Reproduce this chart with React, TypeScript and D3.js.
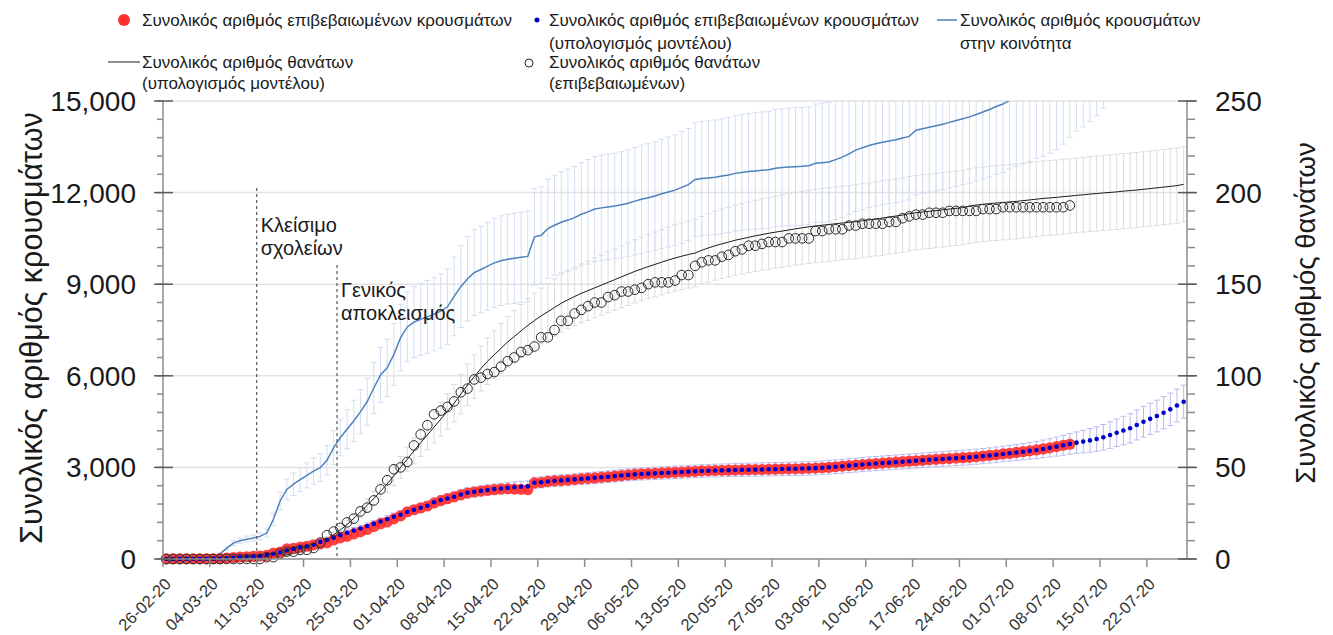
import React from "react";
import * as d3 from "d3";

// dates on the x axis (dd-mm-yy)
const startDate = "26-02-20";
const endDate = "28-07-20";
const tickLabels = ["26-02-20", "04-03-20", "11-03-20", "18-03-20", "25-03-20", "01-04-20", "08-04-20", "15-04-20", "22-04-20", "29-04-20", "06-05-20", "13-05-20", "20-05-20", "27-05-20", "03-06-20", "10-06-20", "17-06-20", "24-06-20", "01-07-20", "08-07-20", "15-07-20", "22-07-20"];

const caseTicks = [0, 3000, 6000, 9000, 12000, 15000];
const deathTicks = [0, 50, 100, 150, 200, 250];

// confirmed cases, daily from 26-02-20
const confirmedStart = "26-02-20";
const confirmedCases = [
  1, 3, 4, 7, 7, 7, 7, 9, 10, 31,
  45, 66, 73, 89, 99, 117, 190, 228, 331, 352,
  387, 418, 464, 495, 530, 624, 695, 743, 821, 892,
  966, 1061, 1156, 1212, 1314, 1415, 1544, 1613, 1673, 1735,
  1830, 1910, 1975, 2035, 2100, 2160, 2195, 2225, 2250, 2270,
  2290, 2300, 2290, 2280, 2270, 2490, 2505, 2540, 2560, 2570,
  2585, 2603, 2625, 2640, 2655, 2672, 2693, 2712, 2733, 2752,
  2770, 2785, 2795, 2805, 2818, 2826, 2838, 2850, 2860, 2870,
  2885, 2890, 2898, 2903, 2908, 2915, 2920, 2925, 2928, 2932,
  2938, 2942, 2948, 2952, 2956, 2962, 2968, 2975, 2988, 3004,
  3022, 3042, 3060, 3075, 3092, 3110, 3125, 3140, 3157, 3171,
  3188, 3204, 3218, 3232, 3250, 3264, 3278, 3290, 3303, 3318,
  3330, 3349, 3371, 3392, 3414, 3440, 3462, 3490, 3514, 3541,
  3571, 3604, 3641, 3681, 3724, 3760,
];

// model estimate of confirmed cases and its error
const modelStart = "26-02-20";
const modelCases = [
  1, 2, 4, 6, 7, 8, 9, 11, 15, 25,
  38, 55, 70, 88, 105, 130, 170, 215, 280, 330,
  375, 420, 465, 560, 620, 700, 780, 860, 935, 1000,
  1080, 1150, 1230, 1300, 1380, 1450, 1540, 1610, 1680, 1740,
  1860, 1930, 1980, 2040, 2110, 2170, 2200, 2230, 2260, 2290,
  2310, 2330, 2350, 2368, 2380, 2495, 2510, 2540, 2560, 2575,
  2590, 2607, 2624, 2641, 2658, 2675, 2695, 2715, 2735, 2755,
  2773, 2785, 2795, 2805, 2816, 2827, 2838, 2849, 2860, 2871,
  2882, 2890, 2897, 2903, 2909, 2915, 2920, 2924, 2928, 2933,
  2937, 2942, 2947, 2952, 2957, 2962, 2967, 2975, 2990, 3005,
  3023, 3040, 3058, 3075, 3093, 3111, 3126, 3141, 3156, 3172,
  3187, 3203, 3218, 3233, 3249, 3264, 3277, 3290, 3304, 3317,
  3330, 3350, 3370, 3392, 3415, 3439, 3463, 3489, 3515, 3542,
  3570, 3605, 3640, 3680, 3725, 3770, 3810, 3845, 3885, 3930,
  3985, 4060, 4135, 4208, 4280, 4390, 4497, 4590, 4683, 4790,
  4902, 5025, 5152,
];
const modelCasesErr = [
  0, 0, 0, 1, 1, 1, 1, 2, 2, 4,
  6, 8, 10, 12, 14, 18, 24, 30, 38, 44,
  50, 55, 60, 66, 72, 78, 84, 90, 95, 100,
  105, 110, 115, 120, 125, 128, 132, 136, 140, 143,
  146, 149, 152, 155, 158, 160, 162, 164, 166, 168,
  170, 172, 174, 176, 178, 180, 182, 183, 184, 185,
  186, 187, 188, 189, 190, 191, 192, 193, 194, 195,
  196, 197, 198, 199, 200, 201, 202, 203, 204, 205,
  206, 207, 208, 209, 210, 211, 212, 213, 214, 215,
  216, 217, 218, 219, 220, 221, 222, 223, 224, 225,
  226, 227, 228, 229, 230, 231, 232, 233, 234, 235,
  236, 237, 238, 239, 240, 241, 242, 243, 244, 245,
  246, 247, 248, 250, 252, 254, 258, 262, 268, 274,
  282, 290, 300, 312, 325, 338, 350, 368, 385, 402,
  420, 436, 452, 466, 480, 492, 503, 512, 520, 527,
  533, 538, 542,
];

// cases in the community (model), daily from 04-03-20
const communityStart = "04-03-20";
const communityCases = [
  0, 170, 350, 520, 600, 650, 690, 740, 850, 1300,
  1900, 2280, 2450, 2600, 2740, 2880, 2990, 3230, 3650, 3980,
  4250, 4520, 4820, 5150, 5600, 6030, 6260, 6700, 7250, 7600,
  7760, 7850, 7930, 8020, 8120, 8260, 8600, 8920, 9180, 9380,
  9480, 9590, 9700, 9770, 9820, 9850, 9880, 9910, 10550, 10600,
  10820, 10930, 11030, 11100, 11180, 11290, 11370, 11460, 11500, 11530,
  11560, 11600, 11650, 11720, 11780, 11830, 11890, 11960, 12020, 12080,
  12170, 12260, 12430, 12460, 12480, 12500, 12540, 12580, 12630, 12660,
  12690, 12710, 12730, 12750, 12800, 12820, 12840, 12850, 12860, 12880,
  12960, 12980, 13000, 13080, 13160, 13270, 13390, 13470, 13540, 13600,
  13650, 13690, 13730, 13790, 13840, 14040, 14090, 14140, 14190, 14240,
  14300, 14360, 14420, 14480, 14560, 14640, 14720, 14820, 14900, 15020,
  15120, 15220, 15320, 15430, 15520, 15640, 15780, 15990, 16250, 16480,
  16650, 16850, 17080, 17370, 17650, 17900, 18150, 18400, 18650,
];
const communityErr = [
  0, 30, 50, 80, 90, 100, 100, 110, 130, 200,
  290, 340, 370, 390, 410, 430, 450, 480, 550, 600,
  640, 680, 720, 770, 840, 900, 940, 1010, 1090, 1140,
  1160, 1180, 1190, 1200, 1220, 1240, 1290, 1340, 1380, 1410,
  1420, 1440, 1460, 1470, 1470, 1480, 1480, 1490, 1580, 1590,
  1620, 1640, 1650, 1670, 1680, 1690, 1710, 1720, 1730, 1730,
  1730, 1740, 1750, 1760, 1770, 1770, 1780, 1790, 1800, 1810,
  1830, 1840, 1860, 1870, 1870, 1880, 1880, 1890, 1890, 1900,
  1900, 1910, 1910, 1910, 1920, 1920, 1930, 1930, 1930, 1930,
  1940, 1950, 1950, 1960, 1970, 1990, 2010, 2020, 2030, 2040,
  2050, 2050, 2060, 2070, 2080, 2110, 2110, 2120, 2130, 2140,
  2150, 2150, 2160, 2170, 2180, 2200, 2210, 2220, 2240, 2250,
  2270, 2280, 2300, 2310, 2330, 2350, 2370, 2400, 2440, 2470,
  2500, 2530, 2560, 2610, 2650, 2690, 2720, 2760, 2800,
];

// deaths: model estimate from 11-03-20, confirmed from 26-02-20
const deathModelStart = "11-03-20";
const deathModel = [
  0.3, 0.6, 1, 1.6, 2.3, 3.1, 4, 5.3, 6.8, 8.6,
  10.8, 13.2, 15.8, 18.8, 22.2, 25.7, 29.3, 33, 37, 41,
  45.5, 50, 54.5, 59, 63.5, 67.7, 72, 76.3, 80.6, 85,
  90, 95, 99.5, 104, 108, 111.5, 115, 118.5, 121.5, 124.5,
  127.5, 130.2, 132.7, 135, 137.3, 139.6, 141.5, 143.3, 145, 146.5,
  148, 149.5, 151, 152.5, 154, 155.5, 157, 158.3, 159.6, 160.8,
  162, 163.2, 164.3, 165.3, 166.2, 167, 168.5, 169.8, 171, 172,
  173, 174, 174.8, 175.6, 176.4, 177.1, 177.8, 178.4, 179, 179.6,
  180.2, 180.8, 181.3, 181.8, 182.2, 182.6, 183, 183.4, 183.8, 184.1,
  184.6, 185.1, 185.6, 186.1, 186.7, 187.2, 187.7, 188.5, 189, 189.4,
  189.8, 190.2, 190.6, 191, 191.4, 191.8, 192.6, 193.2, 193.6, 194,
  194.3, 194.6, 194.9, 195.2, 195.6, 196, 196.4, 196.8, 197.1, 197.4,
  197.8, 198.1, 198.5, 198.8, 199.2, 199.5, 199.8, 200.1, 200.4, 200.8,
  201.1, 201.4, 201.8, 202.2, 202.6, 203, 203.4, 203.8, 204.5,
];
const deathModelErr = [
  0, 0.1, 0.1, 0.2, 0.3, 0.4, 0.5, 0.6, 0.8, 1,
  1.3, 1.6, 1.9, 2.3, 2.7, 3.1, 3.5, 4, 4.4, 4.9,
  5.5, 6, 6.5, 7.1, 7.6, 8.1, 8.6, 9.2, 9.7, 10.2,
  10.8, 11.4, 11.9, 12.3, 12.7, 13.1, 13.5, 13.8, 14.1, 14.4,
  14.7, 15, 15.2, 15.4, 15.6, 15.8, 15.9, 16, 16.1, 16.2,
  16.3, 16.4, 16.6, 16.7, 16.9, 17.1, 17.2, 17.4, 17.5, 17.7,
  17.8, 18, 18.1, 18.2, 18.3, 18.4, 18.5, 18.7, 18.8, 18.9,
  19, 19.1, 19.2, 19.3, 19.4, 19.5, 19.6, 19.6, 19.7, 19.8,
  19.8, 19.9, 19.9, 20, 20, 20.1, 20.1, 20.1, 20.1, 20.2,
  20.2, 20.2, 20.2, 20.3, 20.3, 20.3, 20.3, 20.3, 20.3, 20.3,
  20.3, 20.3, 20.3, 20.3, 20.3, 20.3, 20.3, 20.3, 20.3, 20.4,
  20.4, 20.4, 20.4, 20.4, 20.4, 20.4, 20.4, 20.4, 20.4, 20.4,
  20.4, 20.4, 20.4, 20.4, 20.4, 20.5, 20.5, 20.5, 20.5, 20.5,
  20.5, 20.5, 20.5, 20.5, 20.5, 20.5, 20.5, 20.5, 20.5,
];
const deathsStart = "26-02-20";
const deaths = [
  0, 0, 0, 0, 0, 0, 0, 0, 0, 0,
  0, 0, 0, 0, 0, 1, 1, 3, 4, 4,
  5, 5, 6, 9, 13, 15, 17, 20, 22, 26,
  28, 32, 38, 43, 49, 50, 53, 62, 68, 73,
  79, 81, 83, 86, 91, 93, 98, 99, 101, 102,
  105, 108, 110, 113, 114, 116, 121, 121, 125, 130,
  130, 134, 136, 138, 140, 140, 143, 144, 146, 146,
  147, 148, 150, 151, 151, 151, 152, 155, 155, 160,
  162, 163, 163, 165, 166, 168, 169, 171, 171, 172,
  173, 173, 173, 175, 175, 175, 175, 179, 179, 180,
  180, 180, 182, 182, 183, 183, 183, 183, 184, 184,
  186, 187, 188, 188, 189, 189, 189, 190, 190, 190,
  190, 190, 191, 191, 191, 192, 192, 192, 192, 192,
  192, 192, 192, 192, 192, 193,
];

// interventions
const eventDates = ["11-03-20", "23-03-20"];
const eventLabels = [["Κλείσιμο", "σχολείων"], ["Γενικός", "αποκλεισμός"]];
const eventTops = [12150, 9630];

const FONT = "'Liberation Sans', Arial, sans-serif";
const PL = 163, PR = 1187, PT = 101, PB = 559;

const parse = d3.timeParse("%d-%m-%y");
type Pt = { date: Date; v: number };
// daily points sit at noon of their day
const daily = (start: string, values: number[]): Pt[] =>
  values.map((v, i) => ({ date: d3.timeHour.offset(d3.timeDay.offset(parse(start) as Date, i), 12), v }));

function ErrorBars({ pts, errs, x, y, color, cap = 3 }: any) {
  return (
    <g stroke={color} strokeWidth={1} fill="none">
      {pts.map((p: Pt, i: number) => {
        const e = errs[i];
        if (!e) return null;
        const px = x(p.date);
        const y1 = y(p.v - e), y2 = y(p.v + e);
        return <path key={i} d={`M${px - cap},${y1}H${px + cap}M${px},${y1}V${y2}M${px - cap},${y2}H${px + cap}`} />;
      })}
    </g>
  );
}

export default function App() {
  const x = d3.scaleTime().domain([parse(startDate) as Date, parse(endDate) as Date]).range([PL, PR]);
  const yL = d3.scaleLinear().domain([0, 15000]).range([PB, PT]);
  const yR = d3.scaleLinear().domain([0, 250]).range([PB, PT]);

  const confirmed = daily(confirmedStart, confirmedCases);
  const model = daily(modelStart, modelCases);
  const community = daily(communityStart, communityCases);
  const dModel = daily(deathModelStart, deathModel);
  const dObs = daily(deathsStart, deaths);

  const lineL = d3.line<Pt>().x(d => x(d.date)).y(d => yL(d.v));
  const lineR = d3.line<Pt>().x(d => x(d.date)).y(d => yR(d.v));

  const minorL = d3.range(0, 15001, 600);
  const minorR = d3.range(0, 251, 10);
  const fmt = d3.format(",");
  const axisColor = "#8c8c8c";

  const legendText = { fontFamily: FONT, fontSize: 17, fill: "#1a1a1a" } as const;

  return (
    <svg width={1333} height={635} style={{ position: "absolute", left: 0, top: 0 }}>
      <defs>
        <clipPath id="plotTop">
          <rect x={0} y={PT} width={1333} height={635 - PT} />
        </clipPath>
      </defs>
      <rect width={1333} height={635} fill="#fff" />

      {/* gridlines */}
      {caseTicks.slice(1).map(t => (
        <line key={t} x1={PL} x2={PR} y1={yL(t)} y2={yL(t)} stroke="#e3e3e3" strokeWidth={1.5} />
      ))}

      {/* error bars */}
      <ErrorBars pts={dModel} errs={deathModelErr} x={x} y={yR} color="#dcdcdc" />
      <g clipPath="url(#plotTop)">
        <ErrorBars pts={community} errs={communityErr} x={x} y={yL} color="#d3def0" />
      </g>
      <ErrorBars pts={model} errs={modelCasesErr} x={x} y={yL} color="#b9b9f2" />

      {/* lines */}
      <g clipPath="url(#plotTop)">
        <path d={lineL(community) ?? ""} fill="none" stroke="#4f81bd" strokeWidth={1.5} />
      </g>
      <path d={lineR(dModel) ?? ""} fill="none" stroke="#1a1a1a" strokeWidth={1} />

      {/* event lines */}
      {eventDates.map((ds, i) => {
        const ex = x(parse(ds) as Date);
        const top = yL(eventTops[i]);
        const dy = i === 0 ? 44 : 32;
        return (
          <g key={ds}>
            <line x1={ex} x2={ex} y1={top} y2={PB} stroke="#555" strokeWidth={1.2} strokeDasharray="3,3" />
            {eventLabels[i].map((s, j) => (
              <text key={j} x={ex + 4} y={top + dy + j * 23} fontFamily={FONT} fontSize={20} fill="#1a1a1a">{s}</text>
            ))}
          </g>
        );
      })}

      {/* points */}
      <g fill="#ff3030" fillOpacity={0.9}>
        {confirmed.map((p, i) => <circle key={i} cx={x(p.date)} cy={yL(p.v)} r={5.6} />)}
      </g>
      <g fill="#0000cc">
        {model.map((p, i) => <circle key={i} cx={x(p.date)} cy={yL(p.v)} r={2.3} />)}
      </g>
      <g fill="none" stroke="#2a2a2a" strokeWidth={1}>
        {dObs.map((p, i) => <circle key={i} cx={x(p.date)} cy={yR(p.v)} r={4.8} />)}
      </g>

      {/* axes */}
      <g stroke={axisColor} strokeWidth={1.5}>
        <line x1={PL} x2={PL} y1={PT} y2={PB} />
        <line x1={PR} x2={PR} y1={PT} y2={PB} />
        <line x1={PL} x2={PR} y1={PB} y2={PB} />
        {minorL.map(t => <line key={"ml" + t} x1={PL - 6} x2={PL} y1={yL(t)} y2={yL(t)} />)}
        {minorR.map(t => <line key={"mr" + t} x1={PR} x2={PR + 8} y1={yR(t)} y2={yR(t)} />)}
        {tickLabels.map(l => {
          const tx = x(parse(l) as Date);
          return <line key={"xt" + l} x1={tx} x2={tx} y1={PB} y2={PB + 8} />;
        })}
      </g>
      <g stroke="#5a5a5a" strokeWidth={1.5}>
        {caseTicks.map(t => <line key={"jl" + t} x1={PL - 9} x2={PL + 10} y1={yL(t)} y2={yL(t)} />)}
        {deathTicks.map(t => <line key={"jr" + t} x1={PR - 9} x2={PR + 10} y1={yR(t)} y2={yR(t)} />)}
      </g>

      {/* tick labels */}
      <g fontFamily={FONT} fontSize={28} fill="#1a1a1a">
        {caseTicks.map(t => (
          <text key={"l" + t} x={136} y={yL(t)} dy="0.36em" textAnchor="end">{fmt(t)}</text>
        ))}
        {deathTicks.map(t => (
          <text key={"r" + t} x={1215} y={yR(t)} dy="0.36em">{t}</text>
        ))}
      </g>
      <g fontFamily={FONT} fontSize={16.5} fill="#333">
        {tickLabels.map(l => {
          const tx = x(parse(l) as Date);
          return (
            <text key={l} transform={`translate(${tx + 5},${PB + 22}) rotate(-45)`} textAnchor="end" dy="0.35em">{l}</text>
          );
        })}
      </g>

      {/* axis titles */}
      <text transform="translate(31,328) rotate(-90)" textAnchor="middle" dy="0.35em" fontFamily={FONT} fontSize={30.5} fill="#1a1a1a">Συνολικός αριθμός κρουσμάτων</text>
      <text transform="translate(1305,313) rotate(-90)" textAnchor="middle" dy="0.35em" fontFamily={FONT} fontSize={27.5} fill="#1a1a1a">Συνολικός αριθμός θανάτων</text>

      {/* legend */}
      <g>
        <circle cx={124} cy={20} r={6} fill="#ff3030" />
        <text x={142} y={20} dy="0.35em" {...legendText}>Συνολικός αριθμός επιβεβαιωμένων κρουσμάτων</text>

        <circle cx={537} cy={20} r={2.5} fill="#0000cc" />
        <text x={549} y={20} dy="0.35em" {...legendText}>Συνολικός αριθμός επιβεβαιωμένων κρουσμάτων</text>
        <text x={549} y={43} dy="0.35em" {...legendText}>(υπολογισμός μοντέλου)</text>

        <line x1={937} x2={957} y1={20} y2={20} stroke="#4f81bd" strokeWidth={1.5} />
        <text x={960} y={20} dy="0.35em" {...legendText}>Συνολικός αριθμός κρουσμάτων</text>
        <text x={960} y={43} dy="0.35em" {...legendText}>στην κοινότητα</text>

        <line x1={108} x2={140} y1={62} y2={62} stroke="#1a1a1a" strokeWidth={1} />
        <text x={142} y={62} dy="0.35em" {...legendText}>Συνολικός αριθμός θανάτων</text>
        <text x={142} y={83} dy="0.35em" {...legendText}>(υπολογισμός μοντέλου)</text>

        <circle cx={529} cy={63} r={4} fill="none" stroke="#2a2a2a" strokeWidth={1} />
        <text x={549} y={62} dy="0.35em" {...legendText}>Συνολικός αριθμός θανάτων</text>
        <text x={549} y={83} dy="0.35em" {...legendText}>(επιβεβαιωμένων)</text>
      </g>
    </svg>
  );
}
